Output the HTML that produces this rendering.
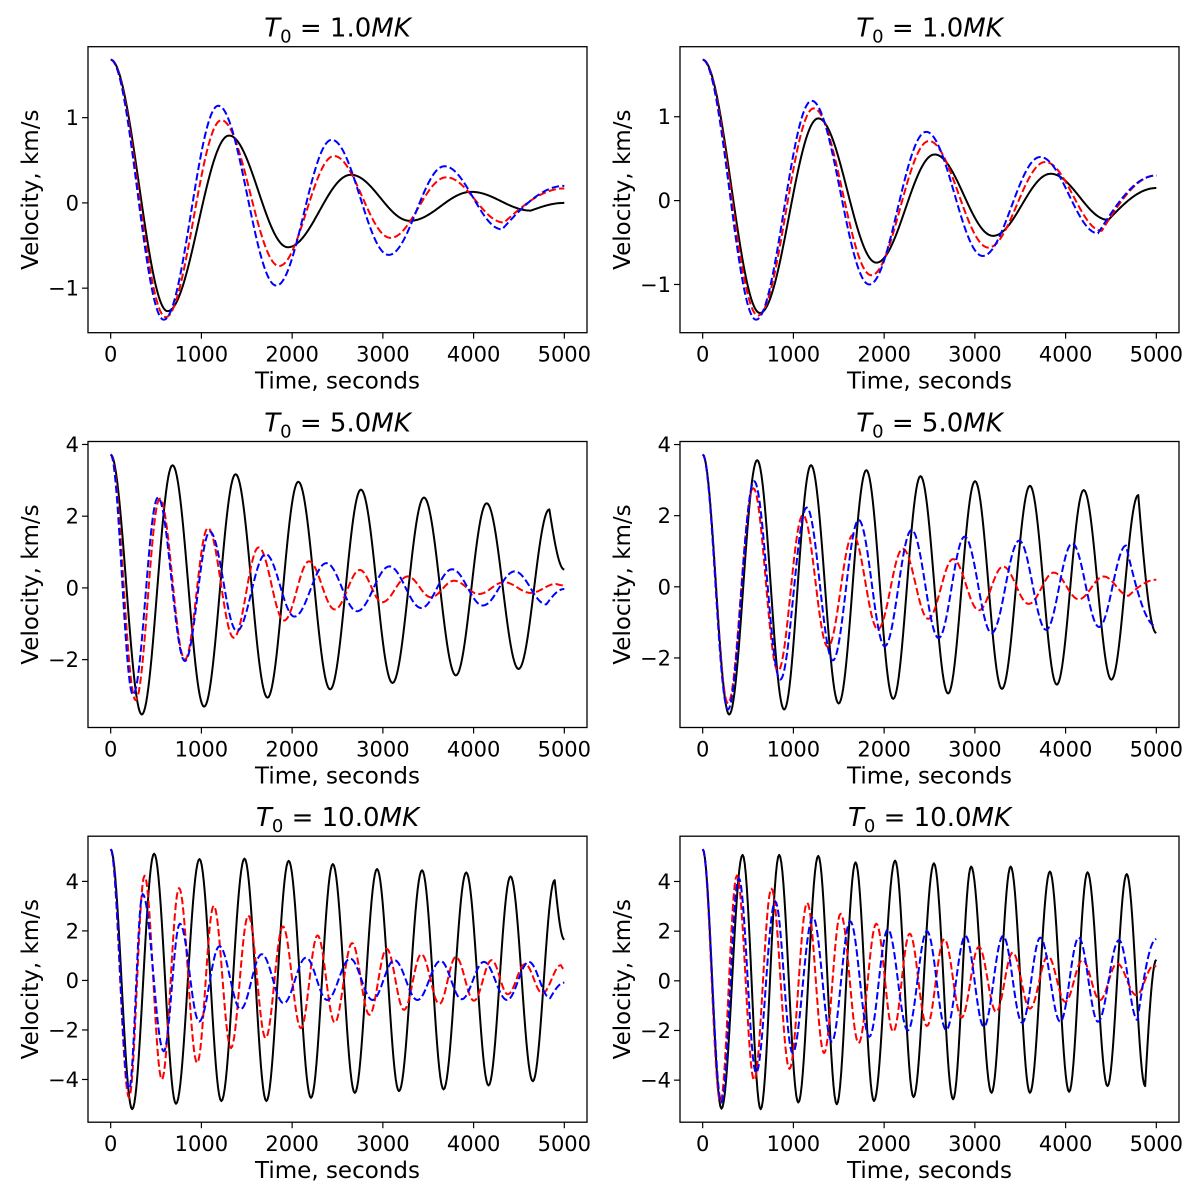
<!DOCTYPE html>
<html><head><meta charset="utf-8">
<style>
html,body{margin:0;padding:0;background:#fff;}
svg{display:block;font-family:"DejaVu Sans","Liberation Sans",sans-serif;}
</style></head>
<body>
<svg id="fig" width="1200" height="1200" viewBox="0 0 1200 1200" xmlns="http://www.w3.org/2000/svg"></svg>
<script>
// ---- Data: extrema (time, velocity) ----
// Panel 1 (top-left, T0=1.0MK)
const p1BlackT=[0,627,1305,1953,2648,3297,3975,4631,5000];
const p1BlackV=[1.68,-1.27,0.79,-0.52,0.33,-0.21,0.13,-0.09,0.0];
const p1RedT=[0,606,1220,1856,2462,3085,3699,4335,5000];
const p1RedV=[1.68,-1.34,0.97,-0.74,0.55,-0.41,0.30,-0.23,0.17];
const p1BlueT=[0,585,1186,1826,2436,3064,3678,4314,5000];
const p1BlueV=[1.68,-1.37,1.14,-0.97,0.74,-0.61,0.43,-0.31,0.20];
// Panel 2 (top-right, T0=1.0MK)
const p2BlackT=[0,631,1274,1914,2557,3201,3836,4471,5000];
const p2BlackV=[1.68,-1.34,0.98,-0.74,0.55,-0.42,0.32,-0.23,0.15];
const p2RedT=[0,610,1224,1859,2494,3150,3776,4399,5000];
const p2RedV=[1.68,-1.37,1.10,-0.89,0.71,-0.56,0.46,-0.36,0.30];
const p2BlueT=[0,588,1202,1837,2464,3086,3721,4357,5000];
const p2BlueV=[1.68,-1.42,1.19,-1.00,0.82,-0.66,0.52,-0.39,0.30];
// Panel 3 (middle-left, T0=5.0MK)
const p3BlackT=[0,343,682,1030,1377,1729,2068,2419,2758,3106,3453,3805,4144,4496,4835,5000];
const p3BlackV=[3.72,-3.53,3.42,-3.31,3.17,-3.06,2.96,-2.83,2.74,-2.65,2.52,-2.44,2.36,-2.26,2.19,0.51];
const p3RedT=[0,275,542,818,1072,1356,1631,1911,2186,2470,2746,2992,3275,3530,3784,4059,4335,4631,4907,5000];
const p3RedV=[3.72,-3.13,2.49,-2.0,1.67,-1.39,1.13,-0.91,0.74,-0.60,0.50,-0.40,0.32,-0.26,0.20,-0.17,0.16,-0.14,0.11,0.07];
const p3BlueT=[0,246,521,818,1093,1390,1708,2025,2377,2716,3072,3424,3763,4102,4453,4801,5000];
const p3BlueV=[3.72,-2.98,2.52,-2.04,1.57,-1.20,0.94,-0.80,0.69,-0.65,0.60,-0.56,0.52,-0.49,0.46,-0.46,-0.03];
// Panel 4 (middle-right, T0=5.0MK)
const p4BlackT=[0,292,601,898,1194,1499,1804,2100,2401,2705,3002,3298,3607,3903,4200,4505,4801,5000];
const p4BlackV=[3.72,-3.59,3.56,-3.45,3.42,-3.28,3.28,-3.15,3.11,-3.0,2.97,-2.87,2.84,-2.75,2.72,-2.61,2.58,-1.30];
const p4RedT=[0,279,559,830,1105,1380,1655,1931,2206,2485,2760,3044,3311,3594,3870,4145,4420,4695,5000];
const p4RedV=[3.72,-3.28,2.77,-2.37,2.02,-1.69,1.46,-1.19,1.07,-0.90,0.78,-0.66,0.57,-0.48,0.40,-0.35,0.29,-0.25,0.20];
const p4BlueT=[0,279,567,855,1147,1435,1719,2007,2303,2600,2887,3184,3489,3785,4073,4369,4666,5000];
const p4BlueV=[3.72,-3.45,2.97,-2.61,2.23,-2.07,1.88,-1.67,1.60,-1.44,1.41,-1.30,1.30,-1.21,1.22,-1.13,1.16,-1.11];
// Panel 5 (bottom-left, T0=10.0MK)
const p5BlackT=[0,237,479,720,979,1220,1475,1716,1962,2208,2449,2691,2936,3178,3432,3669,3919,4165,4407,4653,4894,5000];
const p5BlackV=[5.3,-5.2,5.12,-4.98,4.9,-4.87,4.92,-4.87,4.83,-4.74,4.7,-4.54,4.5,-4.47,4.45,-4.4,4.36,-4.24,4.2,-4.07,4.05,1.65];
const p5RedT=[0,203,373,564,754,953,1136,1326,1517,1708,1898,2097,2280,2470,2661,2852,3042,3233,3424,3623,3805,4004,4199,4377,4568,4758,4962,5000];
const p5RedV=[5.3,-4.74,4.23,-4.0,3.73,-3.33,3.02,-2.73,2.62,-2.33,2.18,-1.93,1.82,-1.7,1.51,-1.39,1.28,-1.19,1.06,-0.95,0.95,-0.82,0.82,-0.56,0.66,-0.52,0.62,0.45];
const p5BlueT=[0,203,352,585,763,975,1199,1432,1665,1907,2153,2386,2640,2886,3127,3381,3636,3869,4114,4369,4610,4843,5000];
const p5BlueV=[5.3,-4.4,3.49,-2.86,2.29,-1.66,1.38,-1.16,1.06,-0.92,0.92,-0.79,0.88,-0.79,0.82,-0.79,0.79,-0.76,0.75,-0.79,0.75,-0.72,-0.09];
// Panel 6 (bottom-right, T0=10.0MK)
const p6BlackT=[0,207,440,639,843,1054,1274,1478,1685,1888,2121,2324,2549,2760,2959,3184,3395,3607,3827,4039,4242,4462,4674,4877,5000];
const p6BlackV=[5.3,-5.15,5.07,-5.17,5.07,-4.9,5.03,-4.97,4.77,-4.84,4.84,-4.68,4.73,-4.77,4.6,-4.51,4.6,-4.51,4.4,-4.47,4.37,-4.24,4.3,-4.24,0.85];
const p6RedT=[0,195,377,567,758,957,1152,1338,1520,1719,1914,2100,2282,2472,2663,2854,3044,3235,3417,3607,3806,3997,4187,4378,4568,4780,4970,5000];
const p6RedV=[5.3,-4.88,4.24,-4.0,3.71,-3.55,3.14,-2.91,2.7,-2.51,2.3,-2.05,1.9,-1.82,1.68,-1.48,1.37,-1.25,1.14,-1.12,1.0,-0.85,0.84,-0.78,0.7,-0.58,0.61,0.58];
const p6BlueT=[0,207,398,589,800,991,1215,1423,1626,1837,2041,2261,2472,2684,2896,3099,3311,3522,3721,3942,4145,4357,4589,4792,5000];
const p6BlueV=[5.3,-4.9,4.14,-3.71,3.2,-2.91,2.57,-2.45,2.4,-2.25,2.07,-2.0,2.0,-1.98,1.81,-1.85,1.81,-1.69,1.74,-1.65,1.74,-1.65,1.64,-1.58,1.68];

const titles=["1.0","1.0","5.0","5.0","10.0","10.0"];
const xTicks=[0,1000,2000,3000,4000,5000];
const yTicks1=[-1,0,1];
const yTicks2=[-2,0,2,4];
const yTicks3=[-4,-2,0,2,4];

const NS="http://www.w3.org/2000/svg";
const svg=document.getElementById('fig');
function mk(tag,attrs,parent){const e=document.createElementNS(NS,tag);for(const k in attrs)e.setAttribute(k,attrs[k]);(parent||svg).appendChild(e);return e;}

const panels=[
 {series:[[p1BlackT,p1BlackV],[p1RedT,p1RedV],[p1BlueT,p1BlueV]],yt:yTicks1},
 {series:[[p2BlackT,p2BlackV],[p2RedT,p2RedV],[p2BlueT,p2BlueV]],yt:yTicks1},
 {series:[[p3BlackT,p3BlackV],[p3RedT,p3RedV],[p3BlueT,p3BlueV]],yt:yTicks2},
 {series:[[p4BlackT,p4BlackV],[p4RedT,p4RedV],[p4BlueT,p4BlueV]],yt:yTicks2},
 {series:[[p5BlackT,p5BlackV],[p5RedT,p5RedV],[p5BlueT,p5BlueV]],yt:yTicks3},
 {series:[[p6BlackT,p6BlackV],[p6RedT,p6RedV],[p6BlueT,p6BlueV]],yt:yTicks3}
];
const colors=["#000000","#ff0000","#0000ff"];
const names=["black-solid-series","red-dashed-series","blue-dashed-series"];
const colLeft=[88,680], frameW=499, rowTop=[46.7,441.5,836.2], frameH=286;

panels.forEach((p,i)=>{
  const c=i%2, r=Math.floor(i/2);
  const L=colLeft[c], T=rowTop[r];
  const g=mk('g',{});
  
  
  // domains
  let mn=Infinity,mx=-Infinity;
  p.series.forEach(s=>s[1].forEach(v=>{mn=Math.min(mn,v);mx=Math.max(mx,v);}));
  const pad=(mx-mn)*0.05; const y0=mn-pad,y1=mx+pad;
  const xPad=5000*0.05;
  const X=t=>L+(t+xPad)/(5000+2*xPad)*frameW;
  const Y=v=>T+frameH-(v-y0)/(y1-y0)*frameH;
  // clip
  const cp=mk('clipPath',{id:'cp'+i},g);
  mk('rect',{x:L,y:T,width:frameW,height:frameH},cp);
  // series
  p.series.forEach((s,k)=>{
    const ts=s[0],vs=s[1];
    let d='M'+X(ts[0]).toFixed(2)+','+Y(vs[0]).toFixed(2);
    for(let j=1;j<ts.length;j++){
      const ta=ts[j-1],tb=ts[j],va=vs[j-1],vb=vs[j];
      const n=Math.max(6,Math.round((tb-ta)/12));
      const last=(j===ts.length-1);
      for(let q=1;q<=n;q++){
        const s_=q/n;
        const w=last? (Math.sin(Math.PI/2*s_)) : (1-Math.cos(Math.PI*s_))/2;
        d+='L'+X(ta+(tb-ta)*s_).toFixed(2)+','+Y(va+(vb-va)*w).toFixed(2);
      }
    }
    const path=mk('path',{d:d,fill:'none',stroke:colors[k],'stroke-width':2,'clip-path':'url(#cp'+i+')','stroke-linejoin':'round'},g);
    if(k>0)path.setAttribute('stroke-dasharray','7.4,3.2');
    
    
  });
  // frame
  const fr=mk('rect',{x:L,y:T,width:frameW,height:frameH,fill:'none',stroke:'#000','stroke-width':1.3},g);
  
  
  // x ticks
  xTicks.forEach(t=>{
    const x=X(t);
    mk('line',{x1:x,x2:x,y1:T+frameH,y2:T+frameH+6,stroke:'#000','stroke-width':1.2},g);
    const tx=mk('text',{x:x,y:T+frameH+29,'font-size':21,'text-anchor':'middle',fill:'#000'},g);
    tx.textContent=String(t);
    
    
  });
  // y ticks
  p.yt.forEach(v=>{
    const y=Y(v);
    mk('line',{x1:L-6,x2:L,y1:y,y2:y,stroke:'#000','stroke-width':1.2},g);
    const tx=mk('text',{x:L-9,y:y+7.5,'font-size':21,'text-anchor':'end',fill:'#000'},g);
    tx.textContent=(v<0?'\u2212':'')+Math.abs(v);
    
    
  });
  // x label
  const xl=mk('text',{x:L+frameW/2,y:T+frameH+56,'font-size':23,'text-anchor':'middle',fill:'#000'},g);
  xl.textContent='Time, seconds';
  
  
  // y label
  const yx=L-50, yy=T+frameH/2;
  const yl=mk('text',{x:yx,y:yy,'font-size':23,'text-anchor':'middle',fill:'#000',transform:'rotate(-90 '+yx+' '+yy+')'},g);
  yl.textContent='Velocity, km/s';
  
  
  // title
  const tt=mk('text',{x:L+frameW/2,y:T-10,'font-size':26,'text-anchor':'middle',fill:'#000'},g);
  
  
  const a=mk('tspan',{'font-style':'italic'},tt); a.textContent='T';
  const b=mk('tspan',{'font-size':18,dy:6},tt); b.textContent='0';
  const c2=mk('tspan',{dy:-6},tt); c2.textContent=' = '+titles[i];
  const d2=mk('tspan',{'font-style':'italic'},tt); d2.textContent='MK';
});
</script>
</body></html>
